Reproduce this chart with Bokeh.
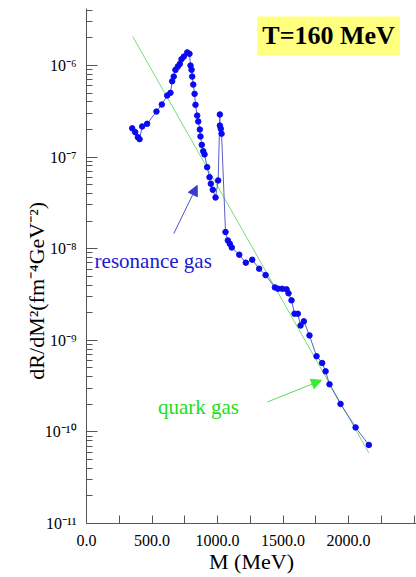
import math
from bokeh.plotting import figure
from bokeh.models import (Range1d, FixedTicker, CustomJSTickFormatter, Label, Arrow,
                          NormalHead, ColumnDataSource)
from bokeh.embed import file_html
from bokeh.resources import INLINE

# ---- data ----
mass = [349, 372, 392, 405, 425, 463, 534, 575, 616, 641, 654, 666, 679, 697, 712,
        725, 743, 769, 786, 794, 802, 807, 815, 825, 832, 845, 853, 865, 870, 880,
        891, 901, 921, 939, 949, 964, 985, 1005, 1018, 1018, 1025, 1031, 1061, 1079,
        1094, 1109, 1166, 1216, 1265, 1318, 1367, 1438, 1462, 1494, 1527, 1542, 1565,
        1588, 1613, 1634, 1659, 1702, 1756, 1799, 1825, 1855, 1939, 2054, 2155]
rate = [2.06e-7, 1.87e-7, 1.65e-7, 1.57e-7, 2.16e-7, 2.31e-7, 3.14e-7, 3.75e-7, 4.70e-7,
        5.03e-7, 6.73e-7, 7.57e-7, 8.95e-7, 9.73e-7, 1.04e-6, 1.17e-6, 1.25e-6, 1.39e-6,
        1.34e-6, 9.98e-7, 8.96e-7, 7.57e-7, 6.19e-7, 4.90e-7, 3.72e-7, 2.84e-7, 2.45e-7,
        2.00e-7, 1.68e-7, 1.36e-7, 1.16e-7, 1.07e-7, 7.76e-8, 6.04e-8, 5.12e-8, 4.40e-8,
        3.62e-8, 5.56e-8, 2.92e-7, 2.21e-7, 2.04e-7, 1.80e-7, 1.52e-8, 1.23e-8, 1.13e-8,
        1.03e-8, 8.60e-9, 7.04e-9, 7.58e-9, 6.05e-9, 5.15e-9, 3.78e-9, 3.66e-9, 3.65e-9,
        3.60e-9, 3.26e-9, 2.73e-9, 1.95e-9, 1.95e-9, 1.45e-9, 1.61e-9, 1.13e-9, 6.70e-10,
        5.65e-10, 4.59e-10, 3.31e-10, 2.02e-10, 1.12e-10, 7.21e-11]
quark_mass = [353, 2155]
quark_rate = [2.07e-6, 5.9e-11]

x_ticks = [0, 500, 1000, 1500, 2000]
x_minor = [250, 750, 1250, 1750, 2250, 2500]
y_exponents = [-11, -10, -9, -8, -7, -6]
y_ticks = [10.0 ** e for e in y_exponents]
y_minor = [m * 10.0 ** e for e in y_exponents for m in range(2, 10)]

title_text = "T=160 MeV"
x_title = "M (MeV)"
y_title = "dR/dM²(fm⁻⁴GeV⁻²)"

# ---- figure ----
p = figure(width=416, height=577, output_backend="svg", toolbar_location=None,
           y_axis_type="log",
           x_range=Range1d(0, 2519), y_range=Range1d(1e-11, 4.19e-6),
           min_border_left=86, min_border_right=0, min_border_top=8,
           min_border_bottom=54)
p.outline_line_color = None
p.grid.visible = False
p.background_fill_color = "white"
p.border_fill_color = "white"

SERIF = "'Liberation Serif', 'Times New Roman', Times, serif"
AXIS_GREY = "#555555"

# axes
xa = p.xaxis[0]
xa.ticker = FixedTicker(ticks=x_ticks, minor_ticks=x_minor)
xa.formatter = CustomJSTickFormatter(code="return tick.toFixed(1);")
xa.major_tick_in = 8
xa.major_tick_out = 0
xa.minor_tick_in = 8
xa.minor_tick_out = 0
xa.major_label_standoff = 11
xa.major_label_text_font = SERIF
xa.major_label_text_font_size = "16px"
xa.major_label_text_color = "black"
xa.axis_line_color = AXIS_GREY
xa.major_tick_line_color = AXIS_GREY
xa.minor_tick_line_color = AXIS_GREY
xa.axis_label = x_title
xa.axis_label_standoff = 0
xa.axis_label_text_font = SERIF
xa.axis_label_text_font_size = "22px"
xa.axis_label_text_font_style = "normal"
xa.axis_label_text_color = "black"

ya = p.yaxis[0]
ya.ticker = FixedTicker(ticks=y_ticks, minor_ticks=y_minor)
ya.formatter = CustomJSTickFormatter(code="""
const e = Math.round(Math.log10(tick));
const sup = {'-':'\u207b','0':'\u2070','1':'\u00b9','2':'\u00b2','3':'\u00b3','4':'\u2074',
             '5':'\u2075','6':'\u2076','7':'\u2077','8':'\u2078','9':'\u2079'};
return '10' + String(e).split('').map(c => sup[c]).join('');
""")
ya.major_tick_in = 11
ya.major_tick_out = 0
ya.minor_tick_in = 6
ya.minor_tick_out = 0
ya.major_label_standoff = 10
ya.major_label_text_font = SERIF
ya.major_label_text_font_size = "16px"
ya.major_label_text_color = "black"
ya.axis_line_color = AXIS_GREY
ya.major_tick_line_color = AXIS_GREY
ya.minor_tick_line_color = AXIS_GREY
# trailing no-break spaces push the rotated title down to where the reference has it
ya.axis_label = y_title + "\u00a0" * 9
ya.axis_label_standoff = -7
ya.axis_label_text_font = SERIF
ya.axis_label_text_font_size = "22px"
ya.axis_label_text_font_style = "normal"
ya.axis_label_text_color = "black"

# quark gas line
p.line(quark_mass, quark_rate, line_color="#77dd77", line_width=1)

# resonance gas curve
src = ColumnDataSource(dict(m=mass, r=rate))
p.line("m", "r", source=src, line_color="#5c5cc8", line_width=1)
p.scatter("m", "r", source=src, size=5.5, marker="circle",
          fill_color="#0a0af0", line_color="#0a0af0")

# annotations
p.add_layout(Arrow(end=NormalHead(size=10, fill_color="#3a3ad0", line_color="#3a3ad0"),
                   x_start=666, y_start=1.46e-8, x_end=845, y_end=4.9e-8,
                   line_color="#5050c8", line_width=1))
p.add_layout(Arrow(end=NormalHead(size=10, fill_color="#33ee33", line_color="#33ee33"),
                   x_start=1380, y_start=2.12e-10, x_end=1794, y_end=3.66e-10,
                   line_color="#55dd55", line_width=1))

p.add_layout(Label(x=62, y=7.4e-9, text="resonance gas", text_font=SERIF,
                   text_font_size="21px", text_color="#1a1ad8",
                   text_baseline="alphabetic"))
p.add_layout(Label(x=545, y=1.85e-10, text="quark gas", text_font=SERIF,
                   text_font_size="21px", text_color="#22dd22",
                   text_baseline="alphabetic"))

p.add_layout(Label(x=1848, y=2.1e-6, text=title_text, text_font=SERIF,
                   text_font_size="26px", text_font_style="bold",
                   text_color="black", text_align="center", text_baseline="middle",
                   background_fill_color="#ffff80", padding=5))

open("out.html", "w").write(file_html(p, INLINE))
